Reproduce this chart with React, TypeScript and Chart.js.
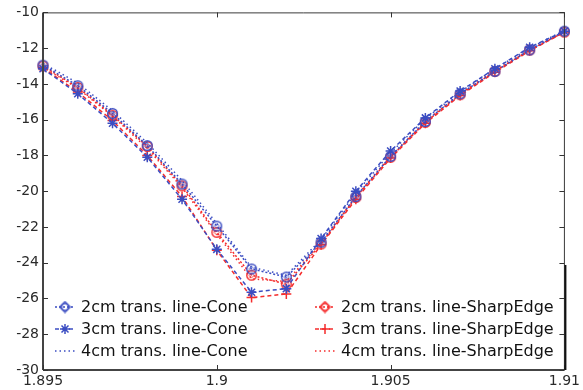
import React, { useEffect, useRef } from 'react';
import { Chart, registerables } from 'chart.js';

Chart.register(...registerables);

// ---------- data ----------
const FREQ_GHZ = [1.895, 1.896, 1.897, 1.898, 1.899, 1.9, 1.901, 1.902, 1.903, 1.904, 1.905, 1.906, 1.907, 1.908, 1.909, 1.91];
const X_TICKS = [1.895, 1.9, 1.905, 1.91];
const X_TICK_LABELS = ['1.895', '1.9', '1.905', '1.91'];
const Y_TICKS = [-30, -28, -26, -24, -22, -20, -18, -16, -14, -12, -10];

const CONE_2CM = [-12.95, -14.1, -15.65, -17.45, -19.6, -21.95, -24.35, -24.8, -22.85, -20.3, -18.05, -16.1, -14.55, -13.3, -12.1, -11.05];
const CONE_3CM = [-13.15, -14.55, -16.2, -18.1, -20.45, -23.25, -25.65, -25.45, -22.65, -20.0, -17.75, -15.9, -14.4, -13.15, -11.95, -11.05];
const CONE_4CM = [-12.85, -13.95, -15.5, -17.3, -19.4, -21.8, -24.25, -24.7, -22.7, -20.1, -17.85, -15.95, -14.45, -13.15, -12.0, -11.0];
const SHARP_2CM = [-13.0, -14.2, -15.75, -17.5, -19.7, -22.3, -24.7, -25.2, -22.95, -20.35, -18.1, -16.15, -14.6, -13.3, -12.1, -11.1];
const SHARP_3CM = [-13.1, -14.45, -16.05, -18.0, -20.3, -23.3, -25.95, -25.75, -23.0, -20.45, -18.15, -16.2, -14.65, -13.35, -12.15, -11.1];
const SHARP_4CM = [-13.05, -14.25, -15.8, -17.6, -19.8, -22.4, -24.9, -25.05, -22.9, -20.3, -18.05, -16.1, -14.55, -13.25, -12.1, -11.1];

const LABELS = [
  '2cm trans. line-Cone',
  '3cm trans. line-Cone',
  '4cm trans. line-Cone',
  '2cm trans. line-SharpEdge',
  '3cm trans. line-SharpEdge',
  '4cm trans. line-SharpEdge',
];

const BLUE = '#3b4dc2';
const RED = '#f52c2c';

// legend glyph: diamond outside, small circle inside
function makeDiamondCircle(color: string): HTMLCanvasElement {
  const c = document.createElement('canvas');
  c.width = 13;
  c.height = 13;
  const g = c.getContext('2d') as CanvasRenderingContext2D;
  g.strokeStyle = color;
  g.lineWidth = 1.3;
  g.beginPath();
  g.moveTo(6.5, 1.2);
  g.lineTo(11.8, 6.5);
  g.lineTo(6.5, 11.8);
  g.lineTo(1.2, 6.5);
  g.closePath();
  g.stroke();
  g.lineWidth = 1.2;
  g.beginPath();
  g.arc(6.5, 6.5, 3.3, 0, Math.PI * 2);
  g.stroke();
  return c;
}

// plot glyph: circle outside, small diamond inside
function makeCircleDiamond(color: string): HTMLCanvasElement {
  const c = document.createElement('canvas');
  c.width = 13;
  c.height = 13;
  const g = c.getContext('2d') as CanvasRenderingContext2D;
  g.strokeStyle = color;
  g.lineWidth = 1.4;
  g.beginPath();
  g.arc(6.5, 6.5, 4.8, 0, Math.PI * 2);
  g.stroke();
  g.lineWidth = 1;
  g.beginPath();
  g.moveTo(6.5, 4);
  g.lineTo(9, 6.5);
  g.lineTo(6.5, 9);
  g.lineTo(4, 6.5);
  g.closePath();
  g.stroke();
  return c;
}

function drawMarker(ctx: CanvasRenderingContext2D, ds: any, x: number, y: number) {
  const style = ds.legendGlyph || ds.pointStyle;
  const r = ds.pointRadius;
  if (!r) {
    return;
  }
  if (style instanceof HTMLCanvasElement) {
    ctx.drawImage(style, x - style.width / 2, y - style.height / 2);
    return;
  }
  ctx.save();
  ctx.strokeStyle = ds.borderColor;
  ctx.lineWidth = ds.pointBorderWidth || 1.5;
  ctx.setLineDash([]);
  ctx.beginPath();
  ctx.moveTo(x - r, y);
  ctx.lineTo(x + r, y);
  ctx.moveTo(x, y - r);
  ctx.lineTo(x, y + r);
  if (style === 'star') {
    const d = r * 0.7;
    ctx.moveTo(x - d, y - d);
    ctx.lineTo(x + d, y + d);
    ctx.moveTo(x - d, y + d);
    ctx.lineTo(x + d, y - d);
  }
  ctx.stroke();
  ctx.restore();
}

const axesBoxPlugin = {
  id: 'axesBox',
  afterDatasetsDraw(chart: any) {
    const { ctx, chartArea } = chart;
    const { left, right, top, bottom } = chartArea;
    const xs = chart.scales.x;
    const ys = chart.scales.y;
    const tl = 5;
    ctx.save();
    ctx.setLineDash([]);
    ctx.strokeStyle = '#3a3a3a';
    ctx.lineWidth = 1;
    ctx.beginPath();
    ctx.moveTo(left, top + 0.5);
    ctx.lineTo(right, top + 0.5);
    ctx.stroke();
    ctx.beginPath();
    ctx.moveTo(right, top);
    ctx.lineTo(right, bottom);
    ctx.stroke();
    ctx.lineWidth = 2;
    ctx.strokeStyle = '#444';
    ctx.beginPath();
    ctx.moveTo(left, top);
    ctx.lineTo(left, bottom);
    ctx.moveTo(left, bottom);
    ctx.lineTo(right, bottom);
    ctx.stroke();
    ctx.lineWidth = 1;
    ctx.strokeStyle = '#333';
    ctx.beginPath();
    X_TICKS.forEach((v) => {
      const px = Math.round(xs.getPixelForValue(v)) + 0.5;
      ctx.moveTo(px, bottom);
      ctx.lineTo(px, bottom - tl);
      ctx.moveTo(px, top);
      ctx.lineTo(px, top + tl);
    });
    Y_TICKS.forEach((v) => {
      const py = Math.round(ys.getPixelForValue(v)) + 0.5;
      ctx.moveTo(left, py);
      ctx.lineTo(left + tl, py);
      ctx.moveTo(right, py);
      ctx.lineTo(right - tl, py);
    });
    ctx.stroke();
    ctx.restore();
  },
};

const splitLegendPlugin = {
  id: 'splitLegend',
  afterDraw(chart: any) {
    const { ctx, chartArea } = chart;
    const dsets = chart.data.datasets;
    const rowY = [307, 329, 351];
    const cols = [55, 315];
    ctx.save();
    ctx.font = '16px "DejaVu Sans", sans-serif';
    ctx.textBaseline = 'middle';
    ctx.textAlign = 'left';
    dsets.forEach((ds: any, i: number) => {
      const col = Math.floor(i / 3);
      const row = i % 3;
      const x0 = cols[col];
      const y = rowY[row];
      ctx.strokeStyle = ds.borderColor;
      ctx.lineWidth = ds.borderWidth;
      ctx.setLineDash(ds.borderDash || []);
      ctx.beginPath();
      ctx.moveTo(x0, y);
      ctx.lineTo(x0 + 20, y);
      ctx.stroke();
      ctx.setLineDash([]);
      drawMarker(ctx, ds, x0 + 10, y);
      ctx.fillStyle = '#111';
      ctx.fillText(ds.label, x0 + 26, y + 1);
    });
    // legend box right edge on the axis
    ctx.strokeStyle = '#111';
    ctx.lineWidth = 2;
    ctx.beginPath();
    ctx.moveTo(chartArea.right + 1, 265);
    ctx.lineTo(chartArea.right + 1, chartArea.bottom);
    ctx.stroke();
    ctx.restore();
  },
};

function series(values: number[]) {
  return FREQ_GHZ.map((x, i) => ({ x, y: values[i] }));
}

export default function App() {
  const canvasRef = useRef<HTMLCanvasElement | null>(null);

  useEffect(() => {
    const canvas = canvasRef.current;
    if (!canvas) return;
    const plotBlue = makeCircleDiamond(BLUE);
    const plotRed = makeCircleDiamond(RED);
    const legBlue = makeDiamondCircle(BLUE);
    const legRed = makeDiamondCircle(RED);
    const base = {
      fill: false,
      tension: 0,
      borderWidth: 1.5,
      pointBorderWidth: 1.5,
      clip: false as any,
    };
    const chart = new Chart(canvas, {
      type: 'line',
      data: {
        datasets: [
          { ...base, label: LABELS[0], data: series(CONE_2CM), borderColor: BLUE, backgroundColor: BLUE, borderDash: [2, 2], pointStyle: plotBlue as any, legendGlyph: legBlue, pointRadius: 5 },
          { ...base, label: LABELS[1], data: series(CONE_3CM), borderColor: BLUE, backgroundColor: BLUE, borderDash: [4, 3], pointStyle: 'star', pointRadius: 5 },
          { ...base, label: LABELS[2], data: series(CONE_4CM), borderColor: BLUE, backgroundColor: BLUE, borderDash: [1.5, 3], pointStyle: 'circle', pointRadius: 0 },
          { ...base, label: LABELS[3], data: series(SHARP_2CM), borderColor: RED, backgroundColor: RED, borderDash: [2, 2], pointStyle: plotRed as any, legendGlyph: legRed, pointRadius: 5 },
          { ...base, label: LABELS[4], data: series(SHARP_3CM), borderColor: RED, backgroundColor: RED, borderDash: [4, 3], pointStyle: 'cross', pointRadius: 5 },
          { ...base, label: LABELS[5], data: series(SHARP_4CM), borderColor: RED, backgroundColor: RED, borderDash: [1.5, 3], pointStyle: 'circle', pointRadius: 0 },
        ] as any,
      },
      options: {
        animation: false,
        responsive: false,
        events: [],
        layout: { padding: { top: 11, right: 15, left: 0, bottom: 0 } },
        plugins: {
          legend: { display: false },
          tooltip: { enabled: false },
          title: { display: false },
        },
        scales: {
          x: {
            type: 'linear',
            min: 1.895,
            max: 1.91,
            grid: { display: false, drawTicks: false },
            border: { display: false },
            afterBuildTicks: (scale: any) => {
              scale.ticks = X_TICKS.map((v) => ({ value: v }));
            },
            afterFit: (scale: any) => {
              scale.height = 20;
            },
            ticks: {
              autoSkip: false,
              maxRotation: 0,
              padding: 3,
              color: '#2a2a2a',
              font: { family: '"DejaVu Sans", sans-serif', size: 14 },
              callback: (_v: any, i: number) => X_TICK_LABELS[i],
            },
          },
          y: {
            type: 'linear',
            min: -30,
            max: -10,
            grid: { display: false, drawTicks: false },
            border: { display: false },
            afterBuildTicks: (scale: any) => {
              scale.ticks = Y_TICKS.map((v) => ({ value: v }));
            },
            afterFit: (scale: any) => {
              scale.width = 43;
            },
            ticks: {
              autoSkip: false,
              padding: 4,
              color: '#2a2a2a',
              font: { family: '"DejaVu Sans", sans-serif', size: 14 },
              callback: (v: any) => String(v),
            },
          },
        },
      } as any,
      plugins: [axesBoxPlugin, splitLegendPlugin],
    });
    return () => {
      chart.destroy();
    };
  }, []);

  return (
    <div style={{ position: 'absolute', left: 0, top: 0, width: 583, height: 390, background: '#fff' }}>
      <canvas ref={canvasRef} width={583} height={390} style={{ display: 'block', width: 583, height: 390 }} />
    </div>
  );
}
